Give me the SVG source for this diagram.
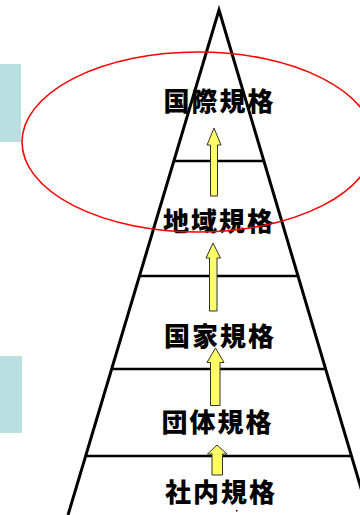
<svg xmlns="http://www.w3.org/2000/svg" width="360" height="515" viewBox="0 0 360 515">
<style>
.edge{stroke:#000;stroke-width:3;fill:none}
.tier{stroke:#000;stroke-width:2.5}
.lbl{font-family:"Noto Sans CJK JP","Noto Sans CJK SC",sans-serif;font-weight:900;font-size:26px;letter-spacing:2px;text-anchor:middle;fill:#000}
.arrow{fill:#ffff66;stroke:#333;stroke-width:1}
.side{fill:#b9dfe1}
</style>
<rect width="360" height="515" fill="#fff"/>
<g id="side-panels">
<rect class="side" x="0" y="64" width="21" height="78"/>
<rect class="side" x="0" y="356" width="22" height="77"/>
</g>
<g id="pyramid">
<polyline class="edge" points="68,515 219,10 369,515"/>
<line class="tier" x1="174" y1="161" x2="264" y2="161"/>
<line class="tier" x1="139" y1="276" x2="298" y2="276"/>
<line class="tier" x1="111" y1="369" x2="326" y2="369"/>
<line class="tier" x1="85" y1="456" x2="352" y2="456"/>
</g>
<g id="connectors">
<polygon class="arrow" points="214,128 221,145 217.5,145 217.5,196 210.5,196 210.5,145 207,145"/>
<polygon class="arrow" points="213,243 220.5,258 217,258 217,311 209.5,311 209.5,258 206,258"/>
<polygon class="arrow" points="215.5,348 224,362.5 220,362.5 220,405.5 210.5,405.5 210.5,362.5 207,362.5"/>
<polygon class="arrow" points="217,445 227,454 222.5,454 222.5,475 212,475 212,454 207.5,454"/>
</g>
<g id="node-kokusai"><text class="lbl" x="219.5" y="111">国際規格</text></g>
<g id="node-chiiki"><text class="lbl" x="219" y="231">地域規格</text></g>
<g id="node-kokka"><text class="lbl" x="220" y="346">国家規格</text></g>
<g id="node-dantai"><text class="lbl" x="217.5" y="432">団体規格</text></g>
<g id="node-shanai"><text class="lbl" x="221" y="502">社内規格</text></g>
<g id="highlight">
<ellipse cx="198" cy="142" rx="176" ry="90" fill="none" stroke="#ff0000" stroke-width="1.6"/>
</g>
<rect x="236" y="510" width="1.5" height="1.5" fill="#000"/>
</svg>
